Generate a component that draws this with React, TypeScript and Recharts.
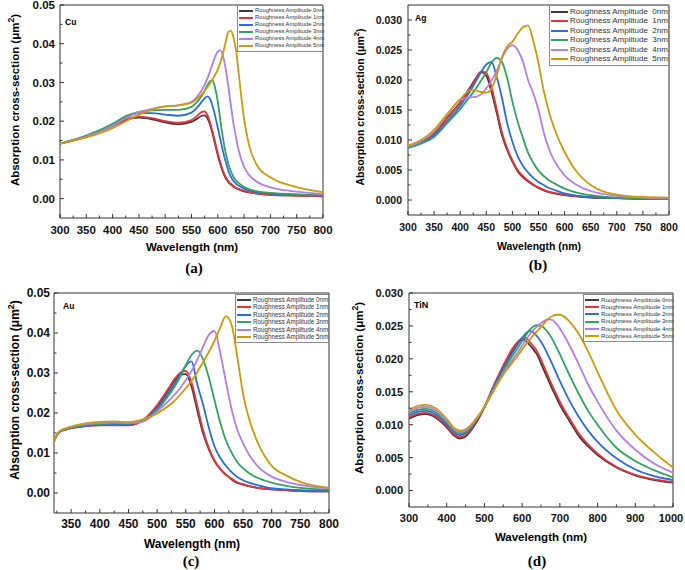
import React from 'react';
import { LineChart, Line, XAxis, YAxis, ReferenceArea } from 'recharts';

const amplitudes = [0, 1, 2, 3, 4, 5];
const lineColors = ['#3b3b3b', '#e8323a', '#2a6fd9', '#33a25f', '#b27fe6', '#cd9a0c'];

// Cu
const cuWavelength = [300, 350, 400, 425, 450, 475, 500, 525, 550, 560, 570, 575, 580, 585, 590, 595, 600, 605, 610, 615, 620, 625, 630, 635, 640, 650, 660, 675, 700, 750, 800];
const cu0 = [.0142, .0160, .0188, .0203, .0209, .0205, .0197, .0192, .0198, .0206, .0214, .0215, .0208, .0192, .0168, .0140, .0112, .0088, .0068, .0053, .0043, .0036, .0031, .0027, .0024, .0019, .0016, .0013, .0010, .0008, .0006];
const cu1 = [.0142, .0160, .0188, .0205, .0212, .0208, .0200, .0196, .0203, .0213, .0224, .0225, .0216, .0198, .0173, .0145, .0117, .0092, .0071, .0056, .0045, .0038, .0032, .0028, .0025, .0020, .0017, .0013, .0010, .0008, .0006];
const cu2 = [.0142, .0162, .0191, .0211, .0221, .0221, .0217, .0214, .0222, .0234, .0251, .0259, .0264, .0258, .0240, .0213, .0183, .0152, .0122, .0095, .0072, .0056, .0045, .0038, .0033, .0026, .0021, .0017, .0013, .0010, .0008];
const cu3 = [.0142, .0163, .0193, .0213, .0224, .0228, .0229, .0229, .0237, .0249, .0267, .0279, .0292, .0303, .0305, .0285, .0250, .0200, .0155, .0118, .0090, .0070, .0056, .0046, .0040, .0030, .0024, .0019, .0015, .0011, .0009];
const cu4 = [.0142, .0160, .0188, .0208, .0223, .0232, .0238, .0241, .0250, .0262, .0281, .0294, .0310, .0328, .0348, .0367, .0380, .0383, .0368, .0335, .0290, .0240, .0193, .0155, .0123, .0082, .0060, .0043, .0029, .0018, .0012];
const cu5 = [.0142, .0158, .0182, .0200, .0217, .0230, .0238, .0241, .0248, .0258, .0270, .0278, .0287, .0297, .0308, .0320, .0334, .0352, .0376, .0405, .0430, .0434, .0415, .0380, .0320, .0205, .0135, .0085, .0055, .0030, .0017];

// Ag
const agWavelength = [300, 325, 350, 375, 400, 420, 430, 440, 450, 460, 470, 480, 490, 500, 510, 520, 530, 540, 550, 560, 570, 580, 600, 625, 650, 700, 750, 800];
const ag0 = [.0088, .0096, .0110, .0137, .0163, .0189, .0203, .0213, .0207, .0180, .0145, .0108, .0083, .0064, .0048, .0038, .0031, .0025, .0020, .0016, .0013, .0011, .0008, .0006, .0004, .0003, .0002, .0002];
const ag1 = [.0088, .0096, .0109, .0136, .0162, .0187, .0202, .0214, .0212, .0188, .0151, .0113, .0086, .0066, .0050, .0040, .0032, .0026, .0021, .0017, .0014, .0012, .0009, .0006, .0005, .0003, .0002, .0002];
const ag2 = [.0087, .0095, .0107, .0131, .0157, .0183, .0198, .0213, .0226, .0230, .0205, .0170, .0128, .0097, .0073, .0057, .0046, .0037, .0030, .0025, .0020, .0017, .0011, .0007, .0005, .0003, .0002, .0002];
const ag3 = [.0087, .0094, .0105, .0128, .0152, .0174, .0186, .0199, .0213, .0229, .0237, .0230, .0203, .0164, .0131, .0104, .0079, .0062, .0049, .0040, .0033, .0028, .0019, .0012, .0008, .0004, .0003, .0002];
const ag4 = [.0089, .0098, .0114, .0142, .0167, .0171, .0172, .0176, .0186, .0199, .0215, .0236, .0252, .0258, .0250, .0231, .0200, .0178, .0150, .0113, .0085, .0066, .0041, .0024, .0015, .0007, .0004, .0003];
const ag5 = [.0091, .0100, .0117, .0143, .0168, .0183, .0182, .0180, .0179, .0186, .0208, .0238, .0256, .0264, .0277, .0288, .0291, .0265, .0228, .0182, .0147, .0120, .0080, .0045, .0025, .0009, .0005, .0004];

// Au
const auWavelength = [320, 330, 350, 375, 400, 425, 450, 475, 500, 520, 530, 540, 550, 560, 570, 580, 590, 600, 610, 620, 630, 640, 650, 660, 675, 700, 725, 750, 800];
const au0 = [.0130, .0153, .0162, .0168, .0170, .0170, .0170, .0181, .0217, .0258, .0280, .0296, .0297, .0266, .0207, .0150, .0110, .0080, .0060, .0046, .0034, .0025, .0021, .0017, .0013, .0009, .0007, .0005, .0004];
const au1 = [.0130, .0153, .0162, .0167, .0169, .0169, .0169, .0182, .0220, .0262, .0284, .0300, .0305, .0277, .0218, .0158, .0113, .0082, .0061, .0046, .0036, .0027, .0022, .0018, .0013, .0009, .0007, .0005, .0004];
const au2 = [.0130, .0154, .0163, .0168, .0171, .0172, .0172, .0181, .0212, .0250, .0272, .0295, .0318, .0329, .0272, .0222, .0165, .0117, .0088, .0068, .0052, .0040, .0032, .0026, .0020, .0012, .0009, .0007, .0005];
const au3 = [.0130, .0154, .0164, .0170, .0173, .0174, .0174, .0180, .0208, .0244, .0265, .0290, .0320, .0345, .0356, .0335, .0290, .0233, .0177, .0132, .0101, .0077, .0062, .0050, .0038, .0026, .0018, .0013, .0008];
const au4 = [.0130, .0154, .0165, .0172, .0175, .0176, .0175, .0178, .0204, .0230, .0245, .0262, .0282, .0305, .0333, .0365, .0395, .0405, .0352, .0278, .0209, .0158, .0124, .0097, .0068, .0041, .0028, .0020, .0012];
const au5 = [.0130, .0155, .0166, .0174, .0178, .0179, .0177, .0184, .0199, .0218, .0230, .0245, .0262, .0280, .0302, .0327, .0352, .0380, .0413, .0442, .0420, .0340, .0248, .0188, .0128, .0068, .0044, .0028, .0013];

// TiN
const tinWavelength = [300, 320, 345, 370, 400, 420, 435, 450, 475, 500, 525, 550, 575, 600, 610, 620, 630, 640, 650, 660, 670, 680, 690, 700, 725, 750, 775, 800, 850, 900, 950, 1000];
const tin0 = [.0109, .0114, .0116, .0111, .0096, .0083, .0079, .0082, .0100, .0126, .0158, .0187, .0212, .0229, .0227, .0221, .0214, .0206, .0193, .0180, .0167, .0154, .0142, .0130, .0106, .0083, .0067, .0054, .0035, .0023, .0016, .0012];
const tin1 = [.0111, .0116, .0118, .0113, .0098, .0085, .0081, .0084, .0102, .0127, .0160, .0190, .0216, .0231, .0232, .0226, .0219, .0211, .0199, .0186, .0172, .0159, .0147, .0135, .0110, .0087, .0070, .0056, .0036, .0024, .0017, .0013];
const tin2 = [.0114, .0119, .0121, .0116, .0101, .0088, .0084, .0087, .0104, .0127, .0157, .0185, .0210, .0232, .0239, .0242, .0240, .0234, .0226, .0216, .0204, .0192, .0179, .0166, .0137, .0112, .0091, .0074, .0049, .0032, .0022, .0016];
const tin3 = [.0117, .0122, .0124, .0119, .0104, .0091, .0087, .0089, .0105, .0127, .0155, .0181, .0205, .0227, .0236, .0244, .0249, .0251, .0250, .0246, .0239, .0230, .0219, .0207, .0176, .0147, .0121, .0100, .0065, .0045, .0031, .0020];
const tin4 = [.0119, .0125, .0127, .0122, .0106, .0093, .0089, .0091, .0106, .0127, .0153, .0178, .0199, .0220, .0229, .0237, .0244, .0249, .0254, .0258, .0260, .0259, .0254, .0246, .0221, .0192, .0161, .0135, .0091, .0062, .0041, .0027];
const tin5 = [.0122, .0128, .0130, .0125, .0109, .0095, .0091, .0093, .0107, .0127, .0152, .0176, .0195, .0214, .0222, .0229, .0236, .0242, .0248, .0255, .0261, .0265, .0267, .0267, .0257, .0238, .0211, .0180, .0122, .0085, .0058, .0035];

// ticks
const visXTicks = [300, 325, 350, 375, 400, 425, 450, 475, 500, 525, 550, 575, 600, 625, 650, 675, 700, 725, 750, 775, 800];
const visXMajor = [300, 350, 400, 450, 500, 550, 600, 650, 700, 750, 800];
const auXTicks = [325, 350, 375, 400, 425, 450, 475, 500, 525, 550, 575, 600, 625, 650, 675, 700, 725, 750, 775, 800];
const auXMajor = [350, 400, 450, 500, 550, 600, 650, 700, 750, 800];
const tinXTicks = [300, 350, 400, 450, 500, 550, 600, 650, 700, 750, 800, 850, 900, 950, 1000];
const tinXMajor = [300, 400, 500, 600, 700, 800, 900, 1000];
const yTicks2 = [0, 0.005, 0.01, 0.015, 0.02, 0.025, 0.03, 0.035, 0.04, 0.045, 0.05];
const yMajor2 = [0, 0.01, 0.02, 0.03, 0.04, 0.05];
const yTicks3 = [0, 0.0025, 0.005, 0.0075, 0.01, 0.0125, 0.015, 0.0175, 0.02, 0.0225, 0.025, 0.0275, 0.03];
const yMajor3 = [0, 0.005, 0.01, 0.015, 0.02, 0.025, 0.03];

const sans = '"Liberation Sans", Arial, sans-serif';
const serif = '"Liberation Serif", "Times New Roman", serif';
const ML = 60;
const MT = 6;
const MR = 16;
const MB = 30;

type Pt = { x: number; y: number };

type PanelProps = {
  metal: string;
  letter: string;
  box: { x: number; y: number; w: number; h: number };
  wavelength: number[];
  series: number[][];
  xDomain: [number, number];
  xTicks: number[];
  xMajor: number[];
  yDomain: [number, number];
  yTicks: number[];
  yMajor: number[];
  yDigits: number;
  tickFont: number;
  titleFont: number;
  xGap: number;
  yGap: number;
  lastShift?: number;
  yTitle: Pt;
  xTitle: Pt;
  letterPos: Pt;
  metalPos: Pt;
  metalFont: number;
  legend: { x: number; y: number; w: number; rowH: number; font: number; sample: number; sep: string };
};

const Panel: React.FC<PanelProps> = (p) => {
  const rows = p.wavelength.map((wl, i) => {
    const row: { [k: string]: number } = { wl };
    p.series.forEach((s, j) => {
      row['s' + j] = s[i];
    });
    return row;
  });

  const lastMajor = p.xMajor[p.xMajor.length - 1];

  const xTick = (props: any) => {
    const { x, y, payload } = props;
    const major = p.xMajor.includes(payload.value);
    const shift = payload.value === lastMajor ? p.lastShift || 0 : 0;
    return (
      <g>
        <line x1={x} x2={x} y1={y} y2={y - (major ? 4 : 2.5)} stroke="#333" />
        {major && (
          <text x={x + shift} y={y + p.xGap} textAnchor="middle" fontSize={p.tickFont} fontWeight="bold" fontFamily={sans} fill="#111">
            {payload.value}
          </text>
        )}
      </g>
    );
  };

  const yTick = (props: any) => {
    const { x, y, payload } = props;
    const major = p.yMajor.includes(payload.value);
    return (
      <g>
        <line x1={x} x2={x + (major ? 4 : 2.5)} y1={y} y2={y} stroke="#333" />
        {major && (
          <text x={x - p.yGap} y={y} dy="0.36em" textAnchor="end" fontSize={p.tickFont} fontWeight="bold" fontFamily={sans} fill="#111">
            {payload.value.toFixed(p.yDigits)}
          </text>
        )}
      </g>
    );
  };

  const lg = p.legend;

  return (
    <>
      <div style={{ position: 'absolute', left: p.box.x - ML, top: p.box.y - MT }}>
        <LineChart width={p.box.w + ML + MR} height={p.box.h + MT + MB} data={rows} margin={{ top: MT, right: MR, left: 0, bottom: 0 }}>
          <XAxis dataKey="wl" type="number" domain={p.xDomain} ticks={p.xTicks} interval={0} tickSize={0} tickMargin={0} axisLine={false} tickLine={false} tick={xTick} height={MB} allowDataOverflow />
          <YAxis type="number" domain={p.yDomain} ticks={p.yTicks} interval={0} tickSize={0} tickMargin={0} axisLine={false} tickLine={false} tick={yTick} width={ML} allowDataOverflow />
          <ReferenceArea x1={p.xDomain[0]} x2={p.xDomain[1]} y1={p.yDomain[0]} y2={p.yDomain[1]} fill="none" fillOpacity={0} stroke="#333" strokeWidth={1} />
          {p.series.map((_, j) => (
            <Line key={j} dataKey={'s' + j} type="monotone" stroke={lineColors[j]} strokeWidth={1.8} dot={false} activeDot={false} isAnimationActive={false} />
          ))}
        </LineChart>
      </div>
      <div style={{ position: 'absolute', left: p.metalPos.x, top: p.metalPos.y, transform: 'translateY(-50%)', fontFamily: sans, fontWeight: 'bold', fontSize: p.metalFont, lineHeight: 1 }}>
        {p.metal}
      </div>
      <div style={{ position: 'absolute', left: p.yTitle.x, top: p.yTitle.y, transform: 'translate(-50%,-50%) rotate(-90deg)', whiteSpace: 'nowrap', fontFamily: sans, fontWeight: 'bold', fontSize: p.titleFont, lineHeight: 1 }}>
        Absorption cross-section (μm<sup style={{ fontSize: '0.75em', lineHeight: 0 }}>2</sup>)
      </div>
      <div style={{ position: 'absolute', left: p.xTitle.x, top: p.xTitle.y, transform: 'translate(-50%,-50%)', whiteSpace: 'nowrap', fontFamily: sans, fontWeight: 'bold', fontSize: p.titleFont, lineHeight: 1 }}>
        Wavelength (nm)
      </div>
      <div style={{ position: 'absolute', left: p.letterPos.x, top: p.letterPos.y, transform: 'translate(-50%,-50%)', fontFamily: serif, fontWeight: 'bold', fontSize: 15, lineHeight: 1 }}>
        {p.letter}
      </div>
      <div style={{ position: 'absolute', left: lg.x, top: lg.y, width: lg.w, boxSizing: 'border-box', border: '1px solid #8a8a8a', background: '#fff', padding: '1px 0' }}>
        {amplitudes.map((a, j) => (
          <div key={j} style={{ display: 'flex', alignItems: 'center', height: lg.rowH }}>
            <div style={{ width: lg.sample, height: 2, background: lineColors[j], marginLeft: 1, marginRight: 2, flex: 'none' }} />
            <span style={{ fontFamily: sans, fontSize: lg.font, color: '#333', whiteSpace: 'pre', lineHeight: 1 }}>
              {'Roughness Amplitude' + lg.sep + a + 'nm'}
            </span>
          </div>
        ))}
      </div>
    </>
  );
};

const App: React.FC = () => {
  return (
    <div style={{ position: 'absolute', left: 0, top: 0, width: 685, height: 570, background: '#fff', overflow: 'hidden' }}>
      <Panel
        metal="Cu" letter="(a)"
        box={{ x: 60, y: 5, w: 263, h: 213 }}
        wavelength={cuWavelength} series={[cu0, cu1, cu2, cu3, cu4, cu5]}
        xDomain={[300, 800]} xTicks={visXTicks} xMajor={visXMajor}
        yDomain={[-0.005, 0.05]} yTicks={yTicks2} yMajor={yMajor2} yDigits={2}
        tickFont={11.5} titleFont={11.5} xGap={16} yGap={5}
        yTitle={{ x: 16, y: 100 }} xTitle={{ x: 192, y: 248 }} letterPos={{ x: 194, y: 268 }}
        metalPos={{ x: 65, y: 22 }} metalFont={8.5}
        legend={{ x: 237, y: 5, w: 86, rowH: 7.1, font: 5.8, sample: 14, sep: ' ' }}
      />
      <Panel
        metal="Ag" letter="(b)"
        box={{ x: 408, y: 5, w: 261, h: 210 }}
        wavelength={agWavelength} series={[ag0, ag1, ag2, ag3, ag4, ag5]}
        xDomain={[300, 800]} xTicks={visXTicks} xMajor={visXMajor}
        yDomain={[-0.0025, 0.0325]} yTicks={yTicks3} yMajor={yMajor3} yDigits={3}
        tickFont={10.5} titleFont={10.5} xGap={16} yGap={6}
        yTitle={{ x: 360, y: 107 }} xTitle={{ x: 539, y: 246 }} letterPos={{ x: 538, y: 265 }}
        metalPos={{ x: 415, y: 18 }} metalFont={8.5}
        legend={{ x: 549, y: 5, w: 120, rowH: 9.5, font: 8, sample: 17, sep: '  ' }}
      />
      <Panel
        metal="Au" letter="(c)"
        box={{ x: 54, y: 293, w: 275, h: 220 }}
        wavelength={auWavelength} series={[au0, au1, au2, au3, au4, au5]}
        xDomain={[320, 800]} xTicks={auXTicks} xMajor={auXMajor}
        yDomain={[-0.005, 0.05]} yTicks={yTicks2} yMajor={yMajor2} yDigits={2}
        tickFont={12} titleFont={12} xGap={15} yGap={4}
        yTitle={{ x: 15, y: 390 }} xTitle={{ x: 192, y: 544 }} letterPos={{ x: 191, y: 561 }}
        metalPos={{ x: 63, y: 306 }} metalFont={8.5}
        legend={{ x: 235, y: 294, w: 94, rowH: 7.5, font: 6.3, sample: 14, sep: ' ' }}
      />
      <Panel
        metal="TiN" letter="(d)"
        box={{ x: 409, y: 293, w: 264, h: 214 }}
        wavelength={tinWavelength} series={[tin0, tin1, tin2, tin3, tin4, tin5]}
        xDomain={[300, 1000]} xTicks={tinXTicks} xMajor={tinXMajor}
        yDomain={[-0.0025, 0.03]} yTicks={yTicks3} yMajor={yMajor3} yDigits={3}
        tickFont={11} titleFont={11.5} xGap={15} yGap={6} lastShift={-2}
        yTitle={{ x: 360, y: 388 }} xTitle={{ x: 541, y: 538 }} letterPos={{ x: 537, y: 561 }}
        metalPos={{ x: 414, y: 305 }} metalFont={9}
        legend={{ x: 583, y: 294, w: 90, rowH: 7.3, font: 6.1, sample: 14, sep: ' ' }}
      />
    </div>
  );
};

export default App;
